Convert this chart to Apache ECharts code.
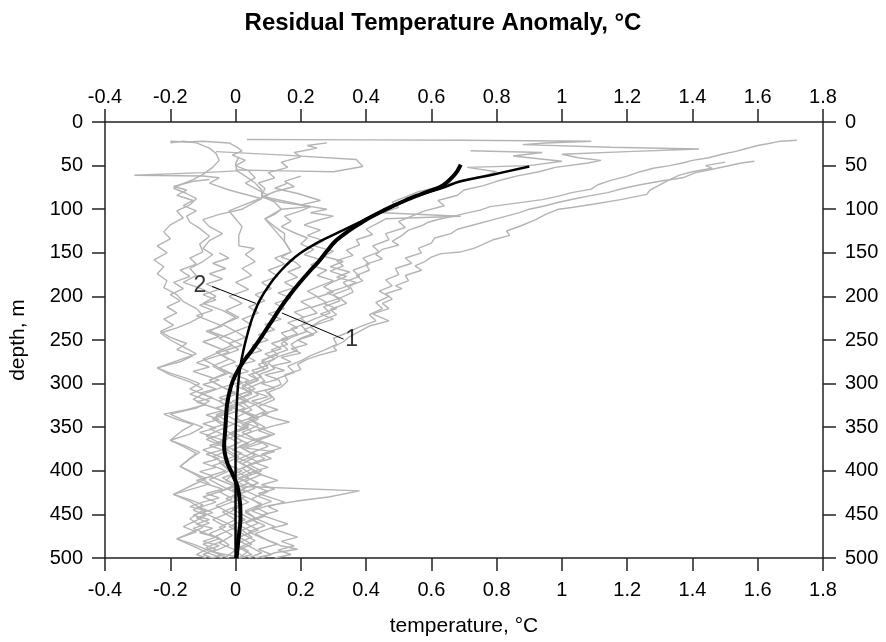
<!DOCTYPE html>
<html>
<head>
<meta charset="utf-8">
<script src="https://cdn.jsdelivr.net/npm/echarts@6/dist/echarts.min.js"></script>
<style>
html,body{margin:0;padding:0;background:#fff;}
#chart{width:886px;height:642px;}
</style>
</head>
<body>
<div id="chart"></div>
<script>
// ---- data: [temperature anomaly (°C), depth (m)] ----
const xTicks = [-0.4,-0.2,0,0.2,0.4,0.6,0.8,1,1.2,1.4,1.6,1.8];
const depthTicks = [0,50,100,150,200,250,300,350,400,450,500];

const profile1 = [[1.72,21],[1.67,22],[1.63,25],[1.6,27],[1.56,31],[1.53,34],[1.49,37],[1.45,41],[1.4,44],[1.37,47],[1.33,50],[1.28,53],[1.24,57],[1.2,62],[1.15,67],[1.11,72],[1.09,77],[1.03,81],[0.99,85],[0.94,89],[0.86,93],[0.78,97],[0.75,101],[0.7,105],[0.67,108],[0.63,111],[0.59,115],[0.57,119],[0.53,124],[0.51,130],[0.48,137],[0.5,141],[0.45,146],[0.43,152],[0.45,157],[0.4,163],[0.41,170],[0.37,176],[0.39,182],[0.35,188],[0.36,195],[0.32,202],[0.34,208],[0.29,215],[0.31,221],[0.26,228],[0.23,235],[0.25,241],[0.2,248],[0.17,255],[0.19,262],[0.13,269],[0.1,276],[0.12,283],[0.07,290],[0.09,297],[0.04,305],[0.07,313],[0.02,321],[0.05,330],[0.0,339],[0.04,348],[-0.02,357],[0.02,366],[-0.03,375],[0.01,384],[-0.04,393],[0.0,402],[-0.03,411],[0.03,420],[-0.01,429],[0.02,438],[-0.04,447],[0.0,456],[-0.05,465],[-0.01,474],[-0.05,483],[0.0,491],[-0.03,499]];
const profile2 = [[1.59,45],[1.55,47],[1.5,51],[1.45,55],[1.41,58],[1.37,64],[1.3,68],[1.24,72],[1.19,76],[1.14,81],[1.08,85],[1.04,88],[0.99,92],[0.95,96],[0.9,100],[0.87,104],[0.83,108],[0.79,112],[0.74,117],[0.68,123],[0.66,128],[0.61,133],[0.6,139],[0.56,145],[0.57,150],[0.52,156],[0.54,162],[0.49,168],[0.5,175],[0.46,181],[0.48,188],[0.44,194],[0.47,200],[0.43,207],[0.45,214],[0.41,221],[0.43,228],[0.38,235],[0.34,242],[0.3,248],[0.31,255],[0.27,262],[0.23,268],[0.2,274],[0.16,280],[0.18,287],[0.13,294],[0.14,301],[0.09,308],[0.11,316],[0.06,324],[0.09,332],[0.04,340],[0.07,348],[0.02,356],[0.06,364],[0.01,372],[0.05,380],[0.0,388],[0.04,396],[0.08,404],[0.03,412],[0.06,420],[0.0,428],[0.04,436],[-0.01,444],[0.03,452],[0.07,460],[0.02,468],[0.05,476],[0.0,484],[0.04,492],[0.01,500]];
const profile3 = [[1.5,46],[1.44,50],[1.46,53],[1.4,57],[1.36,61],[1.33,66],[1.3,72],[1.27,78],[1.26,83],[1.18,89],[1.1,94],[1.03,98],[0.99,100],[0.95,106],[0.92,112],[0.875,119],[0.83,125],[0.84,130],[0.79,135],[0.76,140],[0.73,145],[0.69,149],[0.63,151],[0.6,155],[0.58,160],[0.55,165],[0.57,170],[0.52,176],[0.53,182],[0.49,188],[0.51,191],[0.46,197],[0.48,203],[0.45,208],[0.47,214],[0.42,220],[0.47,228],[0.41,234],[0.38,240],[0.35,246],[0.33,252],[0.3,258],[0.31,262],[0.26,267],[0.22,272],[0.19,278],[0.2,284],[0.15,290],[0.16,297],[0.14,304],[0.1,310],[0.12,318],[0.07,326],[0.1,334],[0.05,342],[0.09,350],[0.03,358],[0.07,366],[0.02,374],[0.06,382],[0.01,390],[0.05,398],[0.0,406],[0.04,414],[-0.01,422],[0.03,430],[0.08,438],[0.03,446],[0.06,454],[0.01,462],[0.05,470],[0.0,478],[0.04,486],[0.08,494],[0.04,500]];
const profile4 = [[0.035,20],[0.4,20.5],[0.7,21],[1.09,22],[0.95,24],[0.88,26],[1.15,29],[1.42,31],[1.2,34],[1.0,37],[1.05,41],[1.12,44],[1.08,47],[0.98,52],[0.93,57],[0.86,62],[0.8,68],[0.76,73],[0.7,78],[0.68,84],[0.62,90],[0.64,96],[0.58,102],[0.54,108],[0.5,114],[0.52,121],[0.46,128],[0.47,135],[0.42,142],[0.44,149],[0.39,156],[0.41,163],[0.36,170],[0.38,177],[0.33,184],[0.35,191],[0.3,198],[0.32,205],[0.27,212],[0.29,219],[0.24,226],[0.2,233],[0.22,240],[0.17,247],[0.14,254],[0.16,261],[0.11,268],[0.08,275],[0.1,282],[0.05,289],[0.07,296],[0.02,304],[0.05,312],[-0.01,320],[0.03,328],[-0.03,336],[0.01,344],[-0.04,352],[0.0,360],[-0.06,368],[-0.02,376],[-0.07,384],[-0.03,392],[0.02,400],[-0.04,408],[0.0,416],[-0.05,424],[-0.01,432],[-0.06,440],[-0.02,448],[-0.07,456],[-0.03,464],[-0.08,472],[-0.04,480],[-0.09,488],[-0.05,496],[-0.02,500]];
const profile5 = [[0.72,33],[0.94,35],[0.85,39],[1.0,45],[0.9,50],[0.71,52],[0.8,57],[0.76,62],[0.68,68],[0.63,74],[0.56,80],[0.52,86],[0.48,92],[0.5,98],[0.45,104],[0.69,108],[0.46,111],[0.43,117],[0.4,123],[0.42,129],[0.37,135],[0.38,141],[0.34,147],[0.36,153],[0.31,159],[0.33,165],[0.29,171],[0.34,177],[0.3,183],[0.27,189],[0.3,195],[0.25,201],[0.28,207],[0.23,213],[0.25,219],[0.2,225],[0.22,231],[0.17,237],[0.19,243],[0.14,249],[0.16,255],[0.11,261],[0.13,267],[0.08,273],[0.1,279],[0.05,285],[0.08,292],[0.03,299],[0.06,306],[0.01,313],[0.04,320],[-0.01,327],[0.03,334],[0.07,341],[0.02,348],[0.05,355],[0.0,362],[0.04,369],[-0.01,376],[0.03,383],[0.07,390],[0.02,397],[0.05,404],[0.0,411],[0.03,418],[0.38,423],[0.285,430],[0.2,434],[0.1,440],[0.05,446],[0.09,452],[0.03,460],[0.07,468],[0.01,476],[0.05,484],[0.0,492],[0.03,500]];
const profile6 = [[-0.2,24],[-0.16,22],[-0.12,24],[-0.08,30],[-0.06,36],[-0.05,44],[-0.07,52],[-0.1,60],[-0.13,66],[-0.17,72],[-0.19,76],[-0.15,82],[-0.12,88],[-0.14,95],[-0.18,102],[-0.16,110],[-0.2,118],[-0.22,126],[-0.2,134],[-0.24,142],[-0.21,150],[-0.25,158],[-0.22,166],[-0.24,174],[-0.21,182],[-0.22,190],[-0.18,198],[-0.16,206],[-0.12,214],[-0.1,222],[-0.14,230],[-0.18,236],[-0.23,242],[-0.2,250],[-0.16,258],[-0.12,266],[-0.18,274],[-0.24,282],[-0.2,290],[-0.14,298],[-0.1,306],[-0.14,312],[-0.08,320],[-0.12,328],[-0.2,335],[-0.16,342],[-0.1,350],[-0.14,358],[-0.2,365],[-0.16,372],[-0.12,380],[-0.17,395],[-0.12,405],[-0.08,415],[-0.19,427],[-0.14,435],[-0.1,445],[-0.14,455],[-0.1,465],[-0.18,478],[-0.12,488],[-0.08,495],[-0.04,500]];
const profile7 = [[0.01,40],[0.0,48],[0.004,56],[-0.1,58],[-0.31,61],[-0.1,62],[-0.05,64],[-0.08,70],[-0.02,78],[0.04,84],[0.08,88],[0.05,94],[0.02,100],[-0.05,106],[-0.1,112],[-0.08,120],[-0.04,128],[-0.08,136],[-0.1,145],[-0.07,152],[-0.1,160],[-0.14,168],[-0.12,176],[-0.16,184],[-0.1,192],[-0.06,200],[-0.1,208],[-0.04,216],[0.0,224],[-0.04,232],[-0.08,240],[-0.02,248],[0.02,256],[-0.05,264],[-0.1,272],[-0.06,280],[-0.02,288],[-0.08,296],[-0.04,304],[-0.1,312],[-0.05,320],[-0.01,330],[-0.07,340],[-0.03,350],[-0.09,360],[-0.04,370],[0.02,380],[-0.05,390],[-0.02,400],[-0.08,410],[-0.03,420],[0.03,430],[-0.04,440],[-0.1,448],[-0.05,456],[0.0,465],[-0.06,475],[-0.02,485],[-0.07,493],[0.02,500]];
const profile8 = [[-0.06,34],[0.15,38],[0.37,43],[0.39,51],[0.3,57],[0.15,56],[0.0,55],[0.03,62],[0.06,70],[0.08,78],[0.08,85],[0.12,92],[0.14,100],[0.12,106],[0.09,111],[0.12,120],[0.15,128],[0.15,137],[0.17,149],[0.14,155],[0.18,160],[0.2,166],[0.16,172],[0.19,178],[0.15,184],[0.18,190],[0.13,196],[0.17,202],[0.12,208],[0.15,214],[0.1,220],[0.14,226],[0.09,232],[0.12,238],[0.07,244],[0.1,250],[0.05,256],[0.08,262],[0.03,268],[0.06,274],[0.0,280],[0.04,286],[-0.02,292],[0.02,298],[-0.04,304],[0.0,310],[-0.05,316],[-0.01,322],[-0.06,328],[-0.02,334],[-0.07,340],[-0.03,346],[-0.08,352],[-0.04,358],[-0.09,364],[-0.05,370],[-0.1,376],[-0.06,382],[-0.02,388],[-0.07,394],[-0.03,400],[-0.08,406],[-0.04,412],[0.0,418],[-0.05,424],[-0.1,430],[-0.06,436],[-0.11,442],[-0.07,448],[-0.12,454],[-0.08,460],[-0.13,466],[-0.09,472],[-0.05,478],[-0.1,484],[-0.06,490],[-0.1,496],[-0.07,500]];
const profile9 = [[0.28,24],[0.22,27],[0.25,30],[0.18,35],[0.2,40],[0.14,46],[0.16,52],[0.1,58],[0.12,64],[0.07,70],[0.09,76],[0.08,85],[0.14,90],[0.23,97],[0.2,102],[0.15,108],[0.17,114],[0.14,120],[0.18,127],[0.22,133],[0.2,140],[0.24,146],[0.21,152],[0.26,158],[0.23,164],[0.28,170],[0.25,176],[0.3,182],[0.26,188],[0.22,194],[0.25,200],[0.2,206],[0.23,212],[0.18,218],[0.21,224],[0.16,230],[0.19,236],[0.14,242],[0.16,248],[0.11,254],[0.14,260],[0.09,266],[0.12,272],[0.07,278],[0.09,284],[0.04,290],[0.07,296],[0.02,302],[0.05,308],[0.0,314],[0.03,320],[-0.02,326],[0.02,332],[0.06,338],[0.01,344],[0.04,350],[-0.01,356],[0.03,362],[0.08,368],[0.03,374],[0.12,378],[0.06,384],[0.02,392],[0.06,400],[0.01,408],[0.05,416],[0.1,424],[0.05,432],[0.08,440],[0.03,448],[0.07,456],[0.12,464],[0.06,472],[0.1,480],[0.14,486],[0.19,490],[0.12,494],[0.08,500]];
const profile10 = [[-0.2,22],[-0.15,23],[-0.1,22],[-0.02,24],[0.0,28],[0.02,33],[-0.01,38],[0.03,44],[0.0,50],[0.04,56],[0.06,64],[0.03,70],[0.07,78],[0.1,84],[0.06,90],[0.02,96],[-0.02,102],[0.0,111],[0.02,120],[0.01,130],[0.01,142],[0.057,145],[0.03,152],[0.06,160],[0.02,168],[0.05,176],[0.0,184],[0.04,192],[-0.02,200],[0.02,208],[-0.03,216],[0.01,224],[-0.04,232],[0.0,240],[-0.05,248],[-0.01,256],[-0.06,264],[-0.02,272],[-0.07,280],[-0.03,288],[-0.08,296],[-0.04,304],[0.0,312],[-0.05,320],[-0.01,328],[-0.06,336],[-0.02,344],[0.03,352],[-0.03,360],[0.01,368],[-0.04,376],[0.0,384],[0.05,392],[0.0,400],[0.04,408],[-0.01,416],[0.03,424],[-0.03,432],[0.02,440],[-0.02,448],[0.03,456],[-0.02,464],[0.02,472],[0.06,480],[0.01,488],[0.05,496],[0.01,500]];
const profile11 = [[0.2,62],[0.15,68],[0.18,74],[0.12,80],[0.08,86],[0.14,92],[0.23,97],[0.14,100],[0.09,111],[0.12,124],[0.15,137],[0.17,149],[0.12,156],[0.15,163],[0.1,170],[0.13,177],[0.08,184],[0.11,191],[0.06,198],[0.09,205],[0.04,212],[0.07,219],[0.02,226],[0.05,233],[0.0,240],[0.03,247],[-0.02,254],[0.01,261],[-0.04,268],[0.0,275],[-0.05,282],[-0.01,289],[0.04,296],[0.0,303],[0.05,310],[0.01,317],[0.06,324],[0.02,331],[0.07,338],[0.03,345],[0.08,352],[0.12,358],[0.07,365],[0.1,372],[0.05,379],[0.09,386],[0.04,393],[0.08,400],[0.03,407],[0.07,414],[0.02,421],[0.06,428],[0.11,435],[0.06,442],[0.1,449],[0.05,456],[0.09,463],[0.04,470],[0.08,477],[0.13,484],[0.07,490],[0.11,496],[0.06,500]];
const profile12 = [[-0.08,66],[-0.13,68],[-0.19,74],[-0.15,78],[-0.18,84],[-0.13,90],[-0.16,96],[-0.12,102],[-0.15,108],[-0.14,115],[-0.11,122],[-0.08,131],[-0.11,140],[-0.1,149],[-0.14,156],[-0.12,163],[-0.17,170],[-0.14,177],[-0.19,184],[-0.16,191],[-0.2,198],[-0.17,205],[-0.21,212],[-0.18,219],[-0.22,226],[-0.19,233],[-0.23,240],[-0.2,247],[-0.15,254],[-0.18,261],[-0.13,268],[-0.17,275],[-0.24,282],[-0.2,288],[-0.15,294],[-0.11,300],[-0.14,306],[-0.1,312],[-0.13,318],[-0.09,324],[-0.15,330],[-0.22,335],[-0.18,341],[-0.13,347],[-0.16,353],[-0.2,365],[-0.15,372],[-0.11,379],[-0.14,386],[-0.17,395],[-0.13,402],[-0.09,409],[-0.13,416],[-0.19,427],[-0.14,433],[-0.1,439],[-0.13,445],[-0.09,451],[-0.12,457],[-0.16,464],[-0.12,470],[-0.18,478],[-0.13,484],[-0.09,490],[-0.12,496],[-0.09,500]];
const profile13 = [[0.16,70],[0.12,76],[0.19,82],[0.26,90],[0.2,95],[0.28,100],[0.23,104],[0.3,108],[0.25,113],[0.21,118],[0.26,124],[0.22,130],[0.27,136],[0.24,142],[0.3,148],[0.27,154],[0.33,160],[0.29,166],[0.35,172],[0.31,178],[0.37,184],[0.33,190],[0.28,196],[0.32,202],[0.27,208],[0.31,214],[0.26,220],[0.3,226],[0.25,232],[0.21,238],[0.24,244],[0.19,250],[0.22,255],[0.17,260],[0.2,265],[0.14,270],[0.17,275],[0.11,280],[0.15,285],[0.09,290],[0.13,295],[0.08,300],[0.12,305],[0.06,310],[0.1,315],[0.05,320],[0.09,325],[0.13,330],[0.08,335],[0.12,340],[0.165,344],[0.11,349],[0.07,354],[0.11,359],[0.06,364],[0.1,369],[0.14,374],[0.12,376],[0.08,381],[0.11,386],[0.06,391],[0.1,396],[0.05,401],[0.09,406],[0.13,411],[0.08,416],[0.12,421],[0.07,426],[0.11,431],[0.15,436],[0.1,441],[0.13,446],[0.08,451],[0.12,456],[0.16,461],[0.11,466],[0.15,471],[0.19,476],[0.14,481],[0.18,486],[0.13,491],[0.17,496],[0.12,500]];
const profile14 = [[-0.05,150],[-0.02,156],[-0.07,162],[-0.03,168],[-0.08,174],[-0.04,180],[-0.09,186],[-0.05,192],[-0.1,198],[-0.06,204],[-0.11,210],[-0.07,216],[-0.12,222],[-0.08,228],[-0.04,234],[-0.09,240],[-0.05,246],[-0.1,252],[-0.06,258],[-0.02,264],[-0.07,270],[-0.12,276],[-0.08,281],[-0.13,286],[-0.09,291],[-0.05,296],[-0.1,301],[-0.06,306],[-0.11,311],[-0.07,316],[-0.12,321],[-0.08,326],[-0.04,331],[-0.09,336],[-0.05,341],[-0.1,346],[-0.06,351],[-0.11,356],[-0.07,361],[-0.03,366],[-0.08,371],[-0.04,376],[-0.09,381],[-0.05,386],[-0.1,391],[-0.06,396],[-0.11,401],[-0.07,406],[-0.12,411],[-0.08,416],[-0.04,421],[-0.09,426],[-0.05,431],[-0.1,436],[-0.14,441],[-0.09,446],[-0.13,451],[-0.08,456],[-0.12,461],[-0.07,466],[-0.11,471],[-0.06,476],[-0.1,481],[-0.05,486],[-0.09,491],[-0.04,496],[-0.07,500]];

const profiles = [profile1,profile2,profile3,profile4,profile5,profile6,profile7,profile8,profile9,profile10,profile11,profile12,profile13,profile14];

// curve 1 (thick) and curve 2 (thin)
const curve1 = [[0.69,49],[0.68,56],[0.665,63],[0.645,70],[0.625,75],[0.595,79],[0.56,84],[0.52,90],[0.478,97],[0.44,104],[0.4,112],[0.366,120],[0.335,128],[0.305,137],[0.28,148],[0.255,160],[0.225,172],[0.195,185],[0.165,199],[0.138,213],[0.11,229],[0.08,246],[0.05,262],[0.022,276],[0.0,290],[-0.014,303],[-0.026,324],[-0.031,350],[-0.035,372],[-0.026,390],[-0.008,405],[0.006,418],[0.014,438],[0.015,455],[0.01,475],[0.003,500]];
const curve2 = [[0.9,51],[0.78,61],[0.69,68],[0.63,76],[0.57,83],[0.51,92],[0.45,102],[0.39,113],[0.33,124],[0.28,133],[0.243,140],[0.2,150],[0.167,160],[0.14,170],[0.117,180],[0.098,190],[0.081,200],[0.067,210],[0.05,226],[0.036,244],[0.024,262],[0.014,282],[0.007,305],[0.003,330],[0.0,365],[0.0,500]];

// annotation labels and leaders
const labelNames = ['2','1'];
const labelX = [-0.109,0.356];
const labelDepth = [187.5,250];
const leader2 = [[-0.072,188.6],[0.062,208]];
const leader1 = [[0.331,249],[0.142,219]];

const FONT = "'Liberation Sans', Arial, Helvetica, sans-serif";
const fmt = v => String(+v.toFixed(1));

const chart = echarts.init(document.getElementById('chart'), null, {renderer:'canvas'});

const series = [];
profiles.forEach((p,i) => {
  series.push({type:'line', data:p, showSymbol:false, symbol:'none', xAxisIndex:0, yAxisIndex:0,
    lineStyle:{color:'#b4b4b4', width:1.4}, z:2, silent:true});
});
series.push({type:'line', data:curve2, symbol:'none', xAxisIndex:0, yAxisIndex:0, smooth:0.4,
  lineStyle:{color:'#000', width:2.5}, z:5});
series.push({type:'line', data:curve1, symbol:'none', xAxisIndex:0, yAxisIndex:0, smooth:0.3,
  lineStyle:{color:'#000', width:4}, z:6});
series.push({type:'line', data:leader2, symbol:'none', xAxisIndex:0, yAxisIndex:0, lineStyle:{color:'#000', width:1}, z:7});
series.push({type:'line', data:leader1, symbol:'none', xAxisIndex:0, yAxisIndex:0, lineStyle:{color:'#000', width:1}, z:7});
series.push({type:'scatter', xAxisIndex:0, yAxisIndex:0, symbolSize:0, z:8,
  data: labelNames.map((n,i)=>({name:n, value:[labelX[i], labelDepth[i]]})),
  label:{show:true, position:'inside', formatter:p=>p.name, color:'#000', fontSize:23, fontFamily:FONT}});

const axisLineStyle = {color:'#222', width:1.5};
const baseX = {type:'value', min:-0.4, max:1.8, interval:0.2,
  axisLine:{show:true, onZero:false, lineStyle:axisLineStyle},
  axisTick:{show:true, inside:false, length:13, lineStyle:axisLineStyle},
  splitLine:{show:false},
  axisLabel:{color:'#000', fontSize:20, fontFamily:FONT, formatter:fmt}};
const baseY = {type:'value', min:0, max:500, interval:50, inverse:true,
  axisLine:{show:true, onZero:false, lineStyle:axisLineStyle},
  axisTick:{show:true, inside:false, length:13, lineStyle:axisLineStyle},
  splitLine:{show:false},
  axisLabel:{color:'#000', fontSize:20, fontFamily:FONT, margin:22}};

chart.setOption({
  animation:false,
  backgroundColor:'#fff',
  title:{text:'Residual Temperature Anomaly, °C', left:'center', top:6,
    textStyle:{fontSize:24, fontWeight:'bold', color:'#000', fontFamily:FONT}},
  grid:{left:103, right:63, top:122, bottom:80, containLabel:false},
  xAxis:[
    Object.assign({}, baseX, {position:'bottom', name:'temperature, °C', nameLocation:'middle', nameGap:58,
      nameTextStyle:{color:'#000', fontSize:21, fontFamily:FONT},
      axisLabel:Object.assign({}, baseX.axisLabel, {margin:22})}),
    Object.assign({}, baseX, {position:'top', axisLabel:Object.assign({}, baseX.axisLabel, {margin:15})})
  ],
  yAxis:[
    Object.assign({}, baseY, {position:'left', name:'depth, m', nameLocation:'middle', nameGap:76, nameRotate:90,
      nameTextStyle:{color:'#000', fontSize:21, fontFamily:FONT}}),
    Object.assign({}, baseY, {position:'right'})
  ],
  series:series
});
</script>
</body>
</html>
